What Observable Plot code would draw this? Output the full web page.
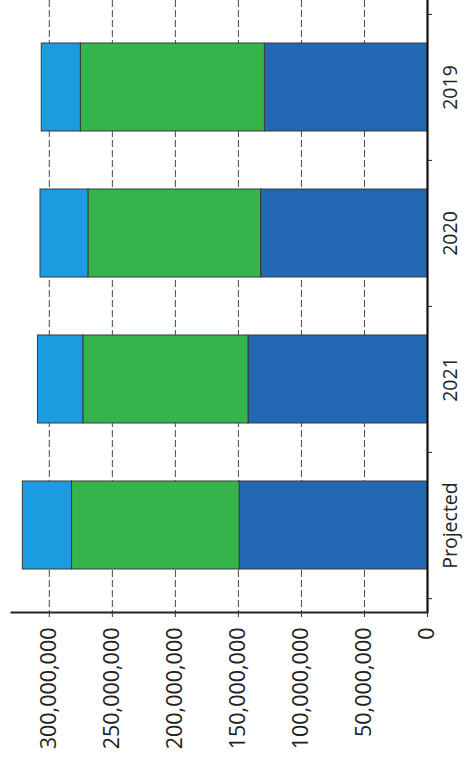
<!DOCTYPE html>
<html>
<head>
<meta charset="utf-8">
<script src="https://cdn.jsdelivr.net/npm/d3@7"></script>
<script src="https://cdn.jsdelivr.net/npm/@observablehq/plot@0.6"></script>
<style>
  html, body { margin: 0; padding: 0; background: #fff; }
  #chart svg { display: block; }
</style>
</head>
<body>
<div id="chart"></div>
<script>
const categories = ["2019", "2020", "2021", "Projected"];
const series = ["Base", "Middle", "Top"];
const baseValues = [129e6, 132e6, 142e6, 149e6];
const middleValues = [146e6, 137e6, 131e6, 133e6];
const topValues = [31e6, 38e6, 36e6, 39e6];
const tickValues = [0, 50e6, 100e6, 150e6, 200e6, 250e6, 300e6];
const gridValues = [50e6, 100e6, 150e6, 200e6, 250e6, 300e6];
const colors = ["#2467b2", "#34b44b", "#1b9be0"];

const seriesValues = [baseValues, middleValues, topValues];
const data = [];
categories.forEach((c, i) => {
  series.forEach((s, j) => data.push({category: c, series: s, value: seriesValues[j][i]}));
});

const W = 464, H = 763;
const mTop = 0, mBottom = 151, mLeft = 11, mRight = 37;
const insetT = 13, insetB = 14;
const step = (H - mTop - mBottom - insetT - insetB) / (categories.length - 0.4 + 0.4);

const chart = Plot.plot({
  width: W,
  height: H,
  marginTop: mTop,
  marginBottom: mBottom,
  marginLeft: mLeft,
  marginRight: mRight,
  style: {fontFamily: "'Open Sans', sans-serif", color: "#222", background: "#fff"},
  x: {domain: [0, 330e6], reverse: true, label: null},
  y: {domain: categories, paddingInner: 0.4, paddingOuter: 0.2, insetTop: insetT, insetBottom: insetB, axis: null, label: null},
  color: {domain: series, range: colors},
  marks: [
    Plot.ruleX(gridValues, {x: d => d, stroke: "#333", strokeWidth: 0.9, strokeDasharray: "7,3"}),
    Plot.barX(data, Plot.stackX({x: "value", y: "category", fill: "series", order: series, stroke: "#3a3a3a", strokeWidth: 1})),
    Plot.ruleX([0], {stroke: "#111", strokeWidth: 2.2}),
    Plot.frame({anchor: "bottom", stroke: "#222", strokeWidth: 2}),
    Plot.axisX({ticks: tickValues, tickFormat: d3.format(","), tickRotate: -90, tickSize: 5, tickPadding: 10, fontSize: 21.5, stroke: "#333", label: null}),
    Plot.axisY({anchor: "right", tickSize: 4, tickFormat: () => "", dy: -step / 2, stroke: "#222", label: null}),
    Plot.axisY(["Projected"], {anchor: "right", tickSize: 4, tickFormat: () => "", dy: step / 2, stroke: "#222", label: null}),
    Plot.text(categories, {y: d => d, frameAnchor: "right", rotate: -90, textAnchor: "middle", lineAnchor: "top", dx: 16, fontSize: 19.5, fill: "#222"})
  ]
});
document.getElementById("chart").appendChild(chart);
</script>
</body>
</html>
